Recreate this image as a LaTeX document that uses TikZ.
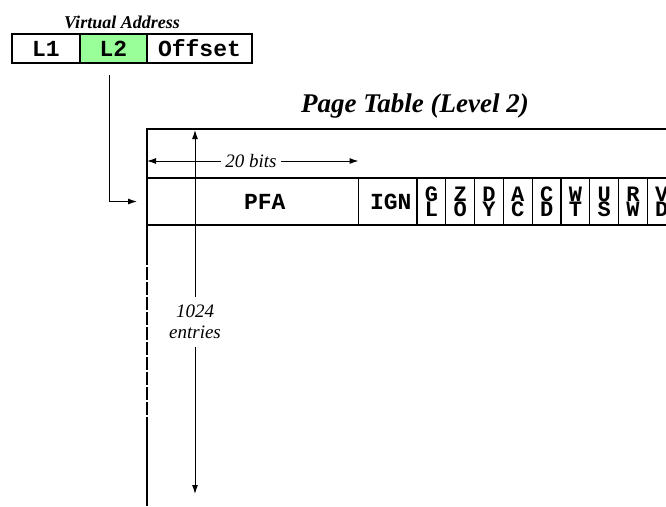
\documentclass[tikz,border=0pt]{standalone}
\usepackage{fontspec}
\setmainfont{Liberation Serif}
\newfontfamily\codefont{Liberation Mono}
\usetikzlibrary{positioning,arrows.meta}
\definecolor{lgreen}{RGB}{153,255,153}

\begin{document}
\begin{tikzpicture}[x=1pt, y=-1pt, > = {Latex[length=9pt,width=6pt]},
  field/.style={draw, line width=1.2pt, inner sep=0pt, outer sep=0pt, minimum height=29pt,
    font=\codefont\bfseries\fontsize{23}{13}\selectfont},
  cell/.style={field, minimum height=47pt, align=center},
  flag/.style={cell, minimum width=28.8pt, anchor=north west,
    font=\codefont\bfseries\fontsize{22}{15}\selectfont},
  lab/.style={font=\itshape\fontsize{19}{21}\selectfont, inner sep=4pt}]

  \useasboundingbox (0,0) rectangle (666,506);

  \node[font=\bfseries\itshape\fontsize{18}{18}\selectfont, anchor=base] (va) at (122,28) {Virtual Address};
  \node[field, minimum width=68pt, anchor=north west] (l1) at (12,34) {L1};
  \node[field, minimum width=67pt, fill=lgreen, right=0pt of l1] (l2) {L2};
  \node[field, minimum width=105pt, right=0pt of l2] (off) {Offset};

  \node[font=\bfseries\itshape\fontsize{27}{27}\selectfont, anchor=base] (title) at (415,112) {Page Table (Level 2)};

  \node[cell, minimum width=211.5pt, anchor=north west] (pfa) at (147,178) {\hspace*{24pt}PFA};
  \node[cell, minimum width=58.5pt, right=0pt of pfa] (ign) {\hspace*{6pt}IGN};
  \foreach \a/\b [count=\i] in {G/L,Z/O,D/Y,A/C,C/D,W/T,U/S,R/W,V/D}
    \node[flag] (f\i) at ({417+(\i-1)*28.8},178) {\a\\\b};

  \draw[line width=1.2pt] (666,129) -- (147,129) -- (147,506);
  \draw[white, line width=3pt, dash pattern=on 2pt off 13pt] (147,265) -- (147,420);

  \draw[->, line width=1pt] ([xshift=-4pt]l2.south) ++(0,12) |- ([xshift=-10pt]pfa.west);

  \node[lab] (bits) at (251,161) {20 bits};
  \draw[->, line width=1pt] (bits.west) -- (bits -| pfa.west);
  \draw[->, line width=1pt] (bits.east) -- (bits -| pfa.east);

  \node[lab, align=center, inner sep=8pt] (cnt) at (195,322) {1024\\entries};
  \draw[->, line width=1pt] (cnt.north) -- (195,130);
  \draw[->, line width=1pt] (cnt.south) -- (195,494);
\end{tikzpicture}
\end{document}
